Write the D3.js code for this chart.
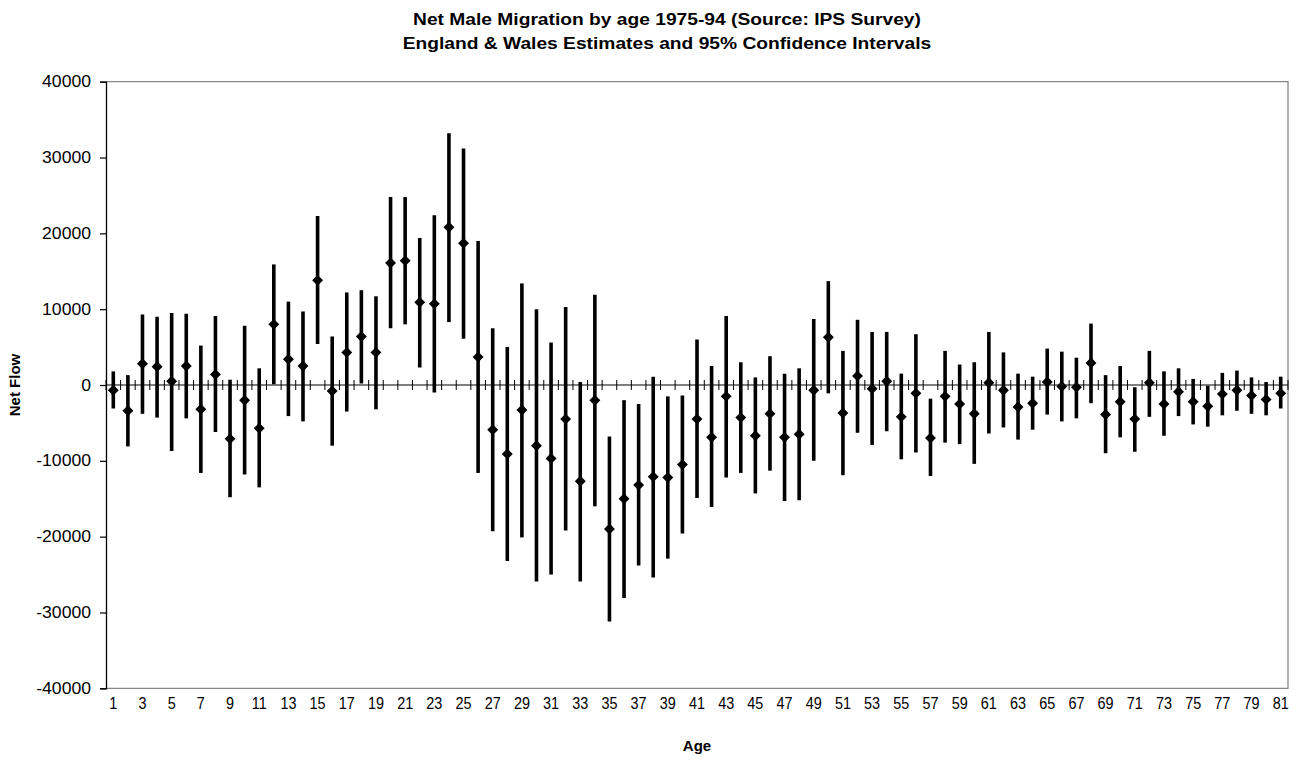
<!DOCTYPE html>
<html>
<head>
<meta charset="utf-8">
<script src="https://cdn.jsdelivr.net/npm/d3@7"></script>
<style>
  html, body { margin: 0; padding: 0; background: #fff; }
  text { font-family: Arial, "Liberation Sans", sans-serif; fill: #000; }
</style>
</head>
<body>
<svg id="chart" width="1303" height="769"></svg>
<script>
// Ages 1..81
const ages = d3.range(1, 82);

// Net flow estimate per age
const estimate = [
  -700, -3400, 2800, 2400, 500, 2500, -3200, 1400, -7100, -2000,
  -5700, 8000, 3400, 2500, 13800, -800, 4300, 6400, 4300, 16100,
  16400, 10900, 10700, 20800, 18700, 3700, -5900, -9100, -3300, -8000,
  -9700, -4500, -12700, -2000, -19000, -15000, -13200, -12100, -12200, -10500,
  -4500, -6900, -1500, -4300, -6700, -3800, -6900, -6500, -700, 6300,
  -3700, 1200, -500, 500, -4200, -1100, -7000, -1500, -2500, -3800,
  300, -700, -2900, -2400, 400, -200, -300, 2900, -3900, -2200,
  -4500, 300, -2500, -900, -2200, -2800, -1200, -700, -1400, -1900,
  -1100
];

// Lower bound of the 95% confidence interval
const lower = [
  -3100, -8100, -3800, -4300, -8700, -4400, -11600, -6200, -14800, -11800,
  -13500, 100, -4100, -4800, 5400, -8000, -3500, 200, -3200, 7500,
  8000, 2300, -1000, 8300, 6100, -11600, -19300, -23200, -20100, -25900,
  -25000, -19200, -25900, -16000, -31200, -28100, -23800, -25400, -22900, -19600,
  -14900, -16100, -12200, -11600, -14300, -11300, -15300, -15200, -10000, -1100,
  -11900, -6300, -7900, -6100, -9800, -8900, -12000, -7600, -7800, -10400,
  -6400, -5600, -7200, -5900, -3900, -4800, -4400, -2400, -9000, -6900,
  -8800, -4200, -6700, -4100, -5200, -5500, -4000, -3400, -3800, -4000,
  -3100
];

// Upper bound of the 95% confidence interval
const upper = [
  1800, 1300, 9300, 9000, 9500, 9400, 5200, 9100, 700, 7800,
  2200, 15900, 11000, 9700, 22300, 6400, 12200, 12500, 11700, 24800,
  24800, 19400, 22400, 33200, 31200, 19000, 7500, 5000, 13400, 10000,
  5600, 10300, 400, 11900, -6800, -2000, -2500, 1100, -1500, -1400,
  6000, 2500, 9100, 3000, 1000, 3800, 1500, 2200, 8700, 13700,
  4500, 8600, 7000, 7000, 1500, 6700, -1800, 4500, 2700, 3000,
  7000, 4300, 1500, 1100, 4800, 4400, 3600, 8100, 1300, 2500,
  -300, 4500, 1800, 2200, 800, -100, 1600, 1900, 1000, 400,
  1100
];

const yTicks = [-40000, -30000, -20000, -10000, 0, 10000, 20000, 30000, 40000];
const xLabelAges = ages.filter(a => a % 2 === 1);

const titleLines = [
  "Net Male Migration by age 1975-94 (Source: IPS Survey)",
  "England & Wales Estimates and 95% Confidence Intervals"
];

const data = ages.map((a, i) => ({ age: a, est: estimate[i], lo: lower[i], hi: upper[i] }));

const svg = d3.select("#chart");
const plot = { left: 106, right: 1288, top: 81.7, bottom: 688.3 };

const x = d3.scaleBand().domain(ages).range([plot.left, plot.right]).padding(0);
const y = d3.scaleLinear().domain([-40000, 40000]).range([plot.bottom, plot.top]);
const cx = a => x(a) + x.bandwidth() / 2;

// Stretch or squeeze text horizontally by a factor of its natural width
function widen(sel, factor) {
  sel.each(function () {
    const w = this.getComputedTextLength();
    d3.select(this).attr("textLength", w * factor).attr("lengthAdjust", "spacingAndGlyphs");
  });
}

// Title
svg.append("g").selectAll("text").data(titleLines).join("text")
  .attr("x", 667).attr("y", (d, i) => 25 + i * 24)
  .attr("text-anchor", "middle")
  .style("font-size", "16px").style("font-weight", "bold")
  .text(d => d)
  .call(widen, 1.2);

// Plot frame (grey top/right/bottom)
svg.append("path")
  .attr("d", `M${plot.left},${plot.top}H${plot.right}V${plot.bottom}H${plot.left}`)
  .attr("fill", "none").attr("stroke", "#888").attr("stroke-width", 1.3);

// Y axis
const yAxis = d3.axisLeft(y).tickValues(yTicks).tickSize(6).tickPadding(9).tickFormat(d => String(d));
const gy = svg.append("g").attr("transform", `translate(${plot.left},0)`).call(yAxis);
gy.select(".domain").attr("stroke", "#000").attr("stroke-width", 1.3);
gy.selectAll(".tick line").attr("stroke", "#000").attr("stroke-width", 1.2);
gy.selectAll(".tick text")
  .style("font-size", "16px").style("font-family", "Arial, 'Liberation Sans', sans-serif")
  .call(widen, 1.1);

// Zero line with cross ticks at category boundaries
const y0 = y(0);
svg.append("line")
  .attr("x1", plot.left).attr("x2", plot.right)
  .attr("y1", y0).attr("y2", y0)
  .attr("stroke", "#000").attr("stroke-width", 1.2);
const boundaries = ages.map(a => x(a)).concat([plot.right]);
svg.append("g").selectAll("line").data(boundaries).join("line")
  .attr("x1", d => d).attr("x2", d => d)
  .attr("y1", y0 - 5).attr("y2", y0 + 5)
  .attr("stroke", "#000").attr("stroke-width", 1);

// X labels (odd ages)
svg.append("g").selectAll("text").data(xLabelAges).join("text")
  .attr("x", d => cx(d)).attr("y", 708.5)
  .attr("text-anchor", "middle")
  .style("font-size", "16px")
  .text(d => d)
  .call(widen, 0.9);

// Axis titles
svg.append("text")
  .attr("x", 697).attr("y", 751)
  .attr("text-anchor", "middle")
  .style("font-size", "15px").style("font-weight", "bold")
  .text("Age");
svg.append("text")
  .attr("transform", `translate(20,${y0}) rotate(-90)`)
  .attr("text-anchor", "middle")
  .style("font-size", "15px").style("font-weight", "bold")
  .text("Net Flow");

// Confidence interval bars
svg.append("g").selectAll("line").data(data).join("line")
  .attr("x1", d => cx(d.age)).attr("x2", d => cx(d.age))
  .attr("y1", d => y(d.lo)).attr("y2", d => y(d.hi))
  .attr("stroke", "#000").attr("stroke-width", 3.6);

// Estimate markers (diamonds)
const diamond = d3.symbol().type(d3.symbolDiamond2).size(76);
svg.append("g").selectAll("path").data(data).join("path")
  .attr("transform", d => `translate(${cx(d.age)},${y(d.est)})`)
  .attr("d", diamond)
  .attr("fill", "#000");
</script>
</body>
</html>
